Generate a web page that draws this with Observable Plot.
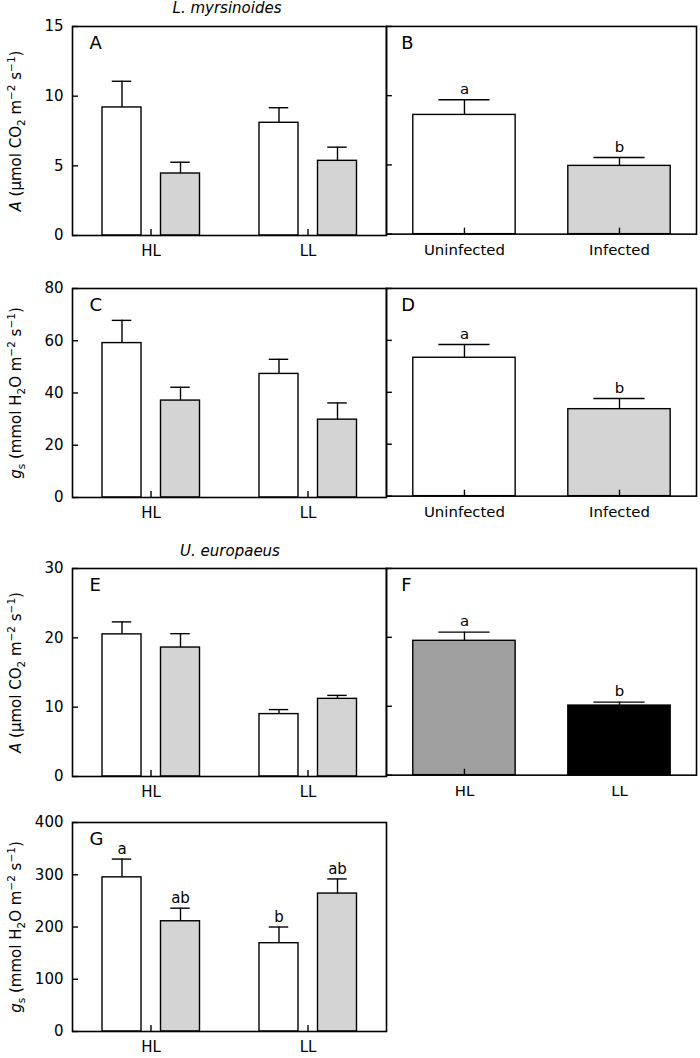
<!DOCTYPE html>
<html>
<head>
<meta charset="utf-8">
<script src="https://cdn.jsdelivr.net/npm/d3@7"></script>
<script src="https://cdn.jsdelivr.net/npm/@observablehq/plot@0.6"></script>
<style>
  body { margin: 0; background: #fff; }
  #fig { position: relative; width: 700px; height: 1058px; font-family: "DejaVu Sans", sans-serif; color: #000; }
  .panel { position: absolute; }
  .title { position: absolute; font-style: italic; font-size: 15px; transform: translateX(-50%); white-space: nowrap; line-height: normal; }
</style>
</head>
<body>
<div id="fig"></div>
<script>
// ---------------- data ----------------
const lightLevels = ["HL", "LL"];
const infectionStatus = ["Uninfected", "Infected"];

// L. myrsinoides
// Panel A: net photosynthesis A by light level, uninfected vs infected
const aUninfectedMean = [9.19, 8.09];
const aUninfectedErr  = [1.88, 1.08];
const aInfectedMean   = [4.45, 5.36];
const aInfectedErr    = [0.81, 0.98];
// Panel B: A pooled by infection status
const bMean = [8.61, 4.93];
const bErr  = [1.10, 0.60];
const bLetters = ["a", "b"];
// Panel C: stomatal conductance gs by light level
const cUninfectedMean = [59.1, 47.3];
const cUninfectedErr  = [8.7, 5.6];
const cInfectedMean   = [37.1, 29.8];
const cInfectedErr    = [5.1, 6.4];
// Panel D: gs pooled by infection status
const dMean = [53.3, 33.5];
const dErr  = [5.1, 4.1];
const dLetters = ["a", "b"];

// U. europaeus
// Panel E: A by light level
const eUninfectedMean = [20.5, 9.0];
const eUninfectedErr  = [1.8, 0.65];
const eInfectedMean   = [18.6, 11.2];
const eInfectedErr    = [2.0, 0.5];
// Panel F: A pooled by light level
const fMean = [19.5, 10.1];
const fErr  = [1.25, 0.5];
const fLetters = ["a", "b"];
// Panel G: gs by light level
const gUninfectedMean = [295, 169];
const gUninfectedErr  = [35, 31];
const gInfectedMean   = [211, 264];
const gInfectedErr    = [25, 28];
const gUninfectedLetters = ["a", "b"];
const gInfectedLetters   = ["ab", "ab"];

// axis ticks
const ticksA = [0, 5, 10, 15];
const ticksC = [0, 20, 40, 60, 80];
const ticksE = [0, 10, 20, 30];
const ticksG = [0, 100, 200, 300, 400];

const labelA = "A (μmol CO₂ m⁻² s⁻¹)";
const labelG = "gₛ (mmol H₂O m⁻² s⁻¹)";
const labelAParts = [["A", "i"], [" (μmol CO"], ["2", "sub"], [" m"], ["−2", "sup"], [" s"], ["−1", "sup"], [")"]];
const labelGParts = [["g", "i"], ["s", "sub"], [" (mmol H"], ["2", "sub"], ["O m"], ["−2", "sup"], [" s"], ["−1", "sup"], [")"]];

// ---------------- helpers ----------------
const FONT = "DejaVu Sans";
const STROKE = 1.4;

function richLabel(svg, parts) {
  const t = Array.from(svg.querySelectorAll("text")).find(el => /mol/.test(el.textContent));
  if (!t) return;
  while (t.firstChild) t.removeChild(t.firstChild);
  t.setAttribute("font-size", "15");
  let shift = 0;
  for (const [s, kind] of parts) {
    const ts = document.createElementNS("http://www.w3.org/2000/svg", "tspan");
    const target = kind === "sub" ? 4 : kind === "sup" ? -6 : 0;
    if (target !== shift) ts.setAttribute("dy", target - shift);
    shift = target;
    if (kind === "sub" || kind === "sup") ts.setAttribute("font-size", "10.5");
    if (kind === "i") ts.setAttribute("font-style", "italic");
    ts.textContent = s;
    t.appendChild(ts);
  }
}

function place(svg, left, top) {
  const d = document.createElement("div");
  d.className = "panel";
  d.style.left = left + "px";
  d.style.top = top + "px";
  d.appendChild(svg);
  document.getElementById("fig").appendChild(d);
}

function groupedPanel({uMean, uErr, iMean, iErr, uLetters, iLetters, ticks, label, parts, tag, frameTop, innerHeight}) {
  const W = 390, ML = 72, MR = 4, MT = 10, MB = 36;
  const IW = W - ML - MR;              // 314
  const band = IW / 2;                 // one band per light level
  const barW = 39, capW = 19.5;
  const uC = 49.5, iC = 108;           // bar centres inside the band
  const rowsU = lightLevels.map((k, i) => ({light: k, mean: uMean[i], top: uMean[i] + uErr[i], letter: uLetters ? uLetters[i] : null}));
  const rowsI = lightLevels.map((k, i) => ({light: k, mean: iMean[i], top: iMean[i] + iErr[i], letter: iLetters ? iLetters[i] : null}));
  const uDx = uC - band / 2, iDx = iC - band / 2;
  const capInset = (band - capW) / 2;
  const marks = [
    Plot.ruleX(rowsU, {x: "light", y1: "mean", y2: "top", dx: uDx, stroke: "black", strokeWidth: STROKE}),
    Plot.ruleX(rowsI, {x: "light", y1: "mean", y2: "top", dx: iDx, stroke: "black", strokeWidth: STROKE}),
    Plot.tickY(rowsU, {x: "light", y: "top", dx: uDx, insetLeft: capInset, insetRight: capInset, stroke: "black", strokeWidth: STROKE}),
    Plot.tickY(rowsI, {x: "light", y: "top", dx: iDx, insetLeft: capInset, insetRight: capInset, stroke: "black", strokeWidth: STROKE}),
    Plot.barY(rowsU, {x: "light", y: "mean", fill: "white", stroke: "black", strokeWidth: STROKE,
      insetLeft: uC - barW / 2, insetRight: band - (uC + barW / 2)}),
    Plot.barY(rowsI, {x: "light", y: "mean", fill: "#d4d4d4", stroke: "black", strokeWidth: STROKE,
      insetLeft: iC - barW / 2, insetRight: band - (iC + barW / 2)}),
    Plot.ruleX(lightLevels, {x: d => d, insetTop: innerHeight - 6, stroke: "black", strokeWidth: STROKE}),
    Plot.ruleY(ticks, {y: d => d, insetRight: IW - 6, stroke: "black", strokeWidth: STROKE}),
    Plot.frame({stroke: "black", strokeWidth: 1.6}),
    Plot.text([tag], {frameAnchor: "top-left", text: d => d, dx: 17, dy: 10, lineAnchor: "top", textAnchor: "start", fontSize: 18})
  ];
  if (uLetters) marks.push(Plot.text(rowsU, {x: "light", y: "top", text: "letter", dx: uDx, dy: -5, lineAnchor: "bottom", fontSize: 15}));
  if (iLetters) marks.push(Plot.text(rowsI, {x: "light", y: "top", text: "letter", dx: iDx, dy: -5, lineAnchor: "bottom", fontSize: 15}));
  const svg = Plot.plot({
    width: W, height: MT + innerHeight + MB,
    marginLeft: ML, marginRight: MR, marginTop: MT, marginBottom: MB,
    style: {fontFamily: FONT, fontSize: "15px", background: "transparent", overflow: "visible", color: "black"},
    x: {domain: lightLevels, padding: 0, tickSize: 0, tickPadding: 10, label: null},
    y: {domain: [ticks[0], ticks[ticks.length - 1]], ticks, tickSize: 0, tickPadding: 9, tickFormat: d => String(d),
        label, labelAnchor: "center", labelOffset: 62},
    marks
  });
  richLabel(svg, parts);
  place(svg, 0, frameTop - MT);
}

function simplePanel({cats, mean, err, letters, fills, ticks, tag, frameTop, innerHeight}) {
  const W = 326, ML = 10, MR = 4, MT = 10, MB = 36;
  const IW = W - ML - MR;   // 312
  const rows = cats.map((k, i) => ({cat: k, mean: mean[i], top: mean[i] + err[i], letter: letters[i]}));
  const capInset = 25.75;
  const marks = [
    Plot.ruleX(rows, {x: "cat", y1: "mean", y2: "top", stroke: "black", strokeWidth: STROKE}),
    Plot.tickY(rows, {x: "cat", y: "top", insetLeft: capInset, insetRight: capInset, stroke: "black", strokeWidth: STROKE}),
    ...rows.map((r, i) => Plot.barY([r], {x: "cat", y: "mean", fill: fills[i], stroke: "black", strokeWidth: STROKE})),
    Plot.ruleX(cats, {x: d => d, insetTop: innerHeight - 6, stroke: "black", strokeWidth: STROKE}),
    Plot.ruleY(ticks, {y: d => d, insetRight: IW - 6, stroke: "black", strokeWidth: STROKE}),
    Plot.frame({stroke: "black", strokeWidth: 1.6}),
    Plot.text(rows, {x: "cat", y: "top", text: "letter", dy: -6, lineAnchor: "bottom", fontSize: 15}),
    Plot.text([tag], {frameAnchor: "top-left", text: d => d, dx: 15, dy: 10, lineAnchor: "top", textAnchor: "start", fontSize: 18})
  ];
  const svg = Plot.plot({
    width: W, height: MT + innerHeight + MB,
    marginLeft: ML, marginRight: MR, marginTop: MT, marginBottom: MB,
    style: {fontFamily: FONT, fontSize: "15px", background: "transparent", overflow: "visible", color: "black"},
    x: {domain: cats, paddingInner: 0.34, paddingOuter: 0.17, tickSize: 0, tickPadding: 10, label: null},
    y: {domain: [ticks[0], ticks[ticks.length - 1]], axis: null},
    marks
  });
  place(svg, 386 - ML, frameTop - MT);
}

// ---------------- titles ----------------
function title(text, cx, top) {
  const d = document.createElement("div");
  d.className = "title";
  d.style.left = cx + "px";
  d.style.top = top + "px";
  d.textContent = text;
  document.getElementById("fig").appendChild(d);
}
title("L. myrsinoides", 227, -1);
title("U. europaeus", 230, 542);

// ---------------- panels ----------------
groupedPanel({uMean: aUninfectedMean, uErr: aUninfectedErr, iMean: aInfectedMean, iErr: aInfectedErr,
  ticks: ticksA, label: labelA, parts: labelAParts, tag: "A", frameTop: 26, innerHeight: 209});
simplePanel({cats: infectionStatus, mean: bMean, err: bErr, letters: bLetters, fills: ["white", "#d4d4d4"],
  ticks: ticksA, tag: "B", frameTop: 26, innerHeight: 209});

groupedPanel({uMean: cUninfectedMean, uErr: cUninfectedErr, iMean: cInfectedMean, iErr: cInfectedErr,
  ticks: ticksC, label: labelG, parts: labelGParts, tag: "C", frameTop: 288, innerHeight: 209});
simplePanel({cats: infectionStatus, mean: dMean, err: dErr, letters: dLetters, fills: ["white", "#d4d4d4"],
  ticks: ticksC, tag: "D", frameTop: 288, innerHeight: 209});

groupedPanel({uMean: eUninfectedMean, uErr: eUninfectedErr, iMean: eInfectedMean, iErr: eInfectedErr,
  ticks: ticksE, label: labelA, parts: labelAParts, tag: "E", frameTop: 568, innerHeight: 208});
simplePanel({cats: lightLevels, mean: fMean, err: fErr, letters: fLetters, fills: ["#a0a0a0", "black"],
  ticks: ticksE, tag: "F", frameTop: 568, innerHeight: 208});

groupedPanel({uMean: gUninfectedMean, uErr: gUninfectedErr, iMean: gInfectedMean, iErr: gInfectedErr,
  uLetters: gUninfectedLetters, iLetters: gInfectedLetters,
  ticks: ticksG, label: labelG, parts: labelGParts, tag: "G", frameTop: 822, innerHeight: 209});
</script>
</body>
</html>
